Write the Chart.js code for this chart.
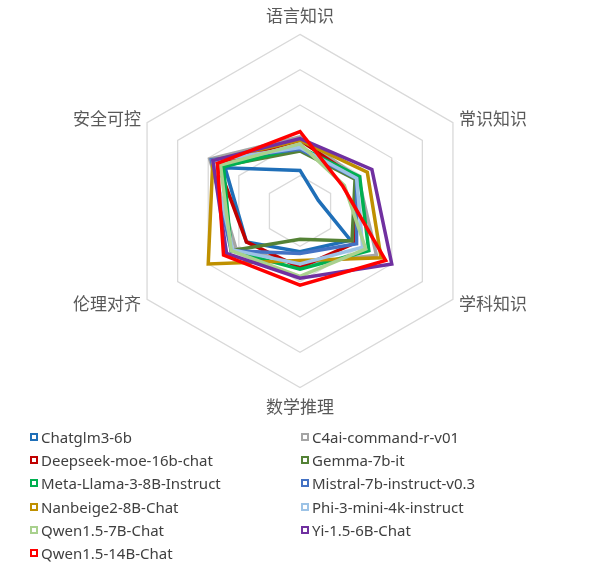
<!DOCTYPE html>
<html>
<head>
<meta charset="utf-8">
<script src="https://cdn.jsdelivr.net/npm/chart.js@4"></script>
<style>
  html, body { margin: 0; padding: 0; background: #ffffff; width: 596px; height: 570px; overflow: hidden; }
  #wrap { position: absolute; left: 4px; top: 5px; width: 592px; height: 413px; }
  #legend { position: absolute; left: 0; top: 0; width: 596px; height: 570px; pointer-events: none; }
  .item { position: absolute; height: 20px; display: flex; align-items: center; font-family: "Noto Sans", "DejaVu Sans", sans-serif; font-size: 15px; color: #404040; white-space: nowrap; }
  .box { width: 4px; height: 4px; border-width: 2.5px; border-style: solid; background: #fff; margin-right: 3px; }
</style>
</head>
<body>
<div id="wrap"><canvas id="c"></canvas></div>
<div id="legend"></div>
<script>
// Axis categories
const categories = ["语言知识", "常识知识", "学科知识", "数学推理", "伦理对齐", "安全可控"];

// Series names (in legend order)
const seriesNames = [
  "Chatglm3-6b", "C4ai-command-r-v01", "Deepseek-moe-16b-chat", "Gemma-7b-it",
  "Meta-Llama-3-8B-Instruct", "Mistral-7b-instruct-v0.3", "Nanbeige2-8B-Chat",
  "Phi-3-mini-4k-instruct", "Qwen1.5-7B-Chat", "Yi-1.5-6B-Chat", "Qwen1.5-14B-Chat"
];

// Series values (per category, in the order above)
const chatglm3   = [23, 12, 33, 23, 35, 49];
const c4ai       = [42, 38, 50, 30, 42, 59];
const deepseek   = [40, 37, 36, 32, 35, 54];
const gemma      = [34, 36, 34, 16, 45, 51];
const metaLlama  = [36, 39, 45, 33, 45, 50];
const mistral    = [35, 37, 37, 24, 45, 58];
const nanbeige   = [40, 44, 53, 28, 60, 57];
const phi3       = [36, 37, 41, 30, 44, 57];
const qwen7b     = [38, 29, 43, 37, 45, 52];
const yi15       = [41, 47, 60, 38, 48, 57];
const qwen14b    = [45, 28, 56, 42, 50, 54];

// Scale ticks
const tickValues = [0, 20, 40, 60, 80, 100];

const seriesValues = [chatglm3, c4ai, deepseek, gemma, metaLlama, mistral, nanbeige, phi3, qwen7b, yi15, qwen14b];
const seriesColors = ["#1f6fb8", "#a5a5a5", "#c00000", "#548235", "#00b050", "#4472c4", "#bf9000", "#9dc3e6", "#a9d18e", "#7030a0", "#ff0000"];

const N = seriesNames.length;
const datasets = seriesNames.map((name, i) => ({
  label: name,
  data: seriesValues[i],
  borderColor: seriesColors[i],
  backgroundColor: seriesColors[i],
  borderWidth: 3.5,
  fill: false,
  pointRadius: 0,
  pointHoverRadius: 0,
  borderJoinStyle: 'miter',
  order: N - 1 - i
}));

const chart = new Chart(document.getElementById('c'), {
  type: 'radar',
  data: { labels: categories, datasets: datasets },
  options: {
    responsive: true,
    maintainAspectRatio: false,
    animation: false,
    layout: { padding: 0 },
    plugins: { legend: { display: false }, tooltip: { enabled: false } },
    scales: {
      r: {
        min: tickValues[0],
        max: tickValues[tickValues.length - 1],
        ticks: { display: false, stepSize: tickValues[1] - tickValues[0] },
        grid: { color: '#d9d9d9', lineWidth: 1.3, circular: false },
        angleLines: { display: false },
        pointLabels: {
          color: '#595959',
          padding: (ctx) => (ctx.index % 3 === 0 ? 9 : 7),
          font: (ctx) => ({
            family: '"Noto Sans CJK SC", "Noto Sans", sans-serif',
            size: 17,
            lineHeight: ctx.index % 3 === 0 ? 1.2 : 0.1
          })
        }
      }
    }
  }
});

// HTML legend, two columns, row-major order
const legend = document.getElementById('legend');
const colX = [30, 301];
const rowY0 = 427, rowDY = 23.2;
chart.data.datasets.forEach((ds, i) => {
  const col = i % 2, row = Math.floor(i / 2);
  const el = document.createElement('div');
  el.className = 'item';
  el.style.left = colX[col] + 'px';
  el.style.top = (rowY0 + row * rowDY) + 'px';
  const box = document.createElement('span');
  box.className = 'box';
  box.style.borderColor = ds.borderColor;
  const txt = document.createElement('span');
  txt.textContent = ds.label;
  el.appendChild(box);
  el.appendChild(txt);
  legend.appendChild(el);
});
</script>
</body>
</html>
